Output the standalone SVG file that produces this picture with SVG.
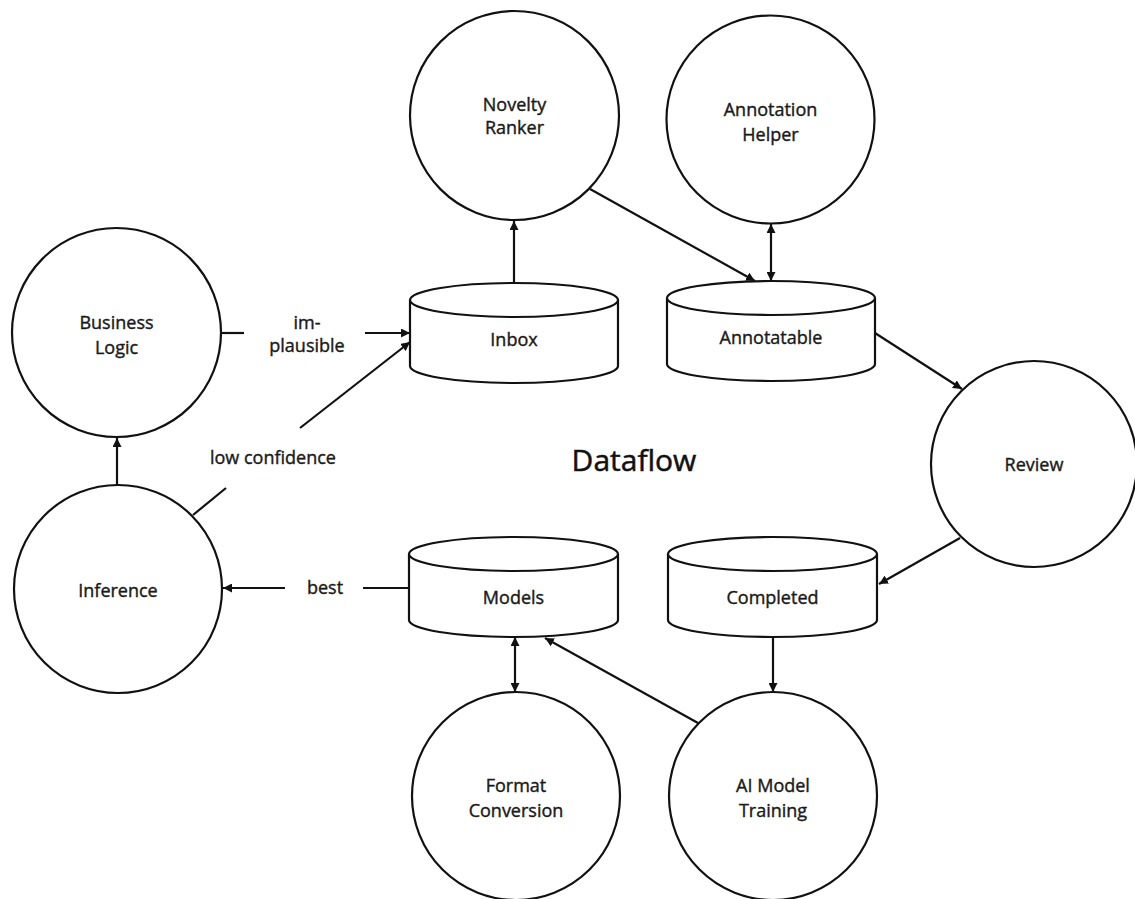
<svg xmlns="http://www.w3.org/2000/svg" width="1135" height="899" viewBox="0 0 1135 899">
<defs>
<marker id="arr" viewBox="0 0 10 10" refX="10" refY="5" markerWidth="9" markerHeight="9" markerUnits="userSpaceOnUse" orient="auto-start-reverse">
<path d="M0,0 L10,5 L0,10 z" fill="#111"/>
</marker>
<style>
.n{fill:#fff;stroke:#111;stroke-width:2.2}
.c{fill:none;stroke:#111;stroke-width:2.2}
.t{font-family:"Open Sans","Noto Sans",sans-serif;font-size:18px;font-weight:400;fill:#1a1a1a;stroke:#1a1a1a;stroke-width:0.4;text-anchor:middle}
.title{font-family:"Open Sans","Noto Sans",sans-serif;font-size:30px;font-weight:400;fill:#111;stroke:#111;stroke-width:0.5;text-anchor:middle}
</style>
</defs>
<rect width="1135" height="899" fill="#fff"/>
<g id="connectors">
<line class="c" x1="117" y1="485" x2="117" y2="438" marker-end="url(#arr)"/>
<line class="c" x1="221" y1="333" x2="244" y2="333"/>
<line class="c" x1="365" y1="333" x2="410" y2="333" marker-end="url(#arr)"/>
<line class="c" x1="193" y1="515" x2="226" y2="488"/>
<line class="c" x1="300" y1="428" x2="410" y2="342" marker-end="url(#arr)"/>
<line class="c" x1="363" y1="588" x2="409" y2="588"/>
<line class="c" x1="285" y1="588" x2="223" y2="588" marker-end="url(#arr)"/>
<line class="c" x1="514" y1="283" x2="514" y2="221" marker-end="url(#arr)"/>
<line class="c" x1="590" y1="189" x2="755" y2="281" marker-end="url(#arr)"/>
<line class="c" x1="771" y1="224" x2="771" y2="281" marker-start="url(#arr)" marker-end="url(#arr)"/>
<line class="c" x1="875" y1="333" x2="962" y2="389" marker-end="url(#arr)"/>
<line class="c" x1="960" y1="538" x2="879" y2="584" marker-end="url(#arr)"/>
<line class="c" x1="773" y1="637" x2="773" y2="692" marker-end="url(#arr)"/>
<line class="c" x1="698" y1="723" x2="545" y2="638" marker-end="url(#arr)"/>
<line class="c" x1="515" y1="637" x2="515" y2="692" marker-start="url(#arr)" marker-end="url(#arr)"/>
</g>
<g id="labels">
<text class="t" x="307" y="329">im-</text>
<text class="t" x="307" y="352">plausible</text>
<text class="t" x="273" y="464">low confidence</text>
<text class="t" x="325" y="594">best</text>
</g>
<text class="title" x="634" y="471">Dataflow</text>
<g id="novelty-ranker">
<circle class="n" cx="514.5" cy="115.5" r="104.5"/>
<text class="t" x="514.5" y="111">Novelty</text>
<text class="t" x="514.5" y="134">Ranker</text>
</g>
<g id="annotation-helper">
<circle class="n" cx="770.5" cy="119.5" r="104"/>
<text class="t" x="770.5" y="116">Annotation</text>
<text class="t" x="770.5" y="141">Helper</text>
</g>
<g id="business-logic">
<circle class="n" cx="116.5" cy="332.5" r="104.5"/>
<text class="t" x="116.5" y="329">Business</text>
<text class="t" x="116.5" y="354">Logic</text>
</g>
<g id="inference">
<circle class="n" cx="118" cy="589" r="104"/>
<text class="t" x="118" y="597">Inference</text>
</g>
<g id="review">
<circle class="n" cx="1034" cy="464" r="103"/>
<text class="t" x="1034" y="471">Review</text>
</g>
<g id="format-conversion">
<circle class="n" cx="516" cy="796" r="104"/>
<text class="t" x="516" y="792">Format</text>
<text class="t" x="516" y="817">Conversion</text>
</g>
<g id="ai-model-training">
<circle class="n" cx="773" cy="796" r="104"/>
<text class="t" x="773" y="792">AI Model</text>
<text class="t" x="773" y="817">Training</text>
</g>
<g id="inbox">
<path class="n" d="M410,300 L410,366 A104,17 0 0 0 618,366 L618,300"/>
<ellipse class="n" cx="514" cy="300" rx="104" ry="17"/>
<text class="t" x="514" y="346">Inbox</text>
</g>
<g id="annotatable">
<path class="n" d="M667,298 L667,364 A104,17 0 0 0 875,364 L875,298"/>
<ellipse class="n" cx="771" cy="298" rx="104" ry="17"/>
<text class="t" x="771" y="344">Annotatable</text>
</g>
<g id="models">
<path class="n" d="M409,554 L409,620 A104.5,17 0 0 0 618,620 L618,554"/>
<ellipse class="n" cx="513.5" cy="554" rx="104.5" ry="17"/>
<text class="t" x="513.5" y="604">Models</text>
</g>
<g id="completed">
<path class="n" d="M668,554 L668,620 A104.5,17 0 0 0 877,620 L877,554"/>
<ellipse class="n" cx="772.5" cy="554" rx="104.5" ry="17"/>
<text class="t" x="772.5" y="604">Completed</text>
</g>
</svg>
